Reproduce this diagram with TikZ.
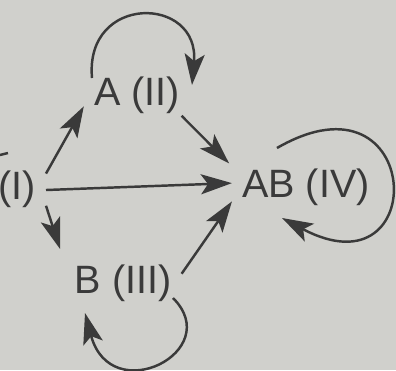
\documentclass[tikz,border=0pt]{standalone}
\usepackage{fontspec}
\setmainfont{Liberation Sans}
\usetikzlibrary{arrows.meta}
\definecolor{paper}{RGB}{208,208,204}
\definecolor{ink}{RGB}{58,58,58}

\begin{document}
\begin{tikzpicture}[x=0.02cm, y=0.02cm,
    stage/.style={font=\fontsize{22.5}{26}\selectfont, text=ink,
      inner xsep=0.2cm, inner ysep=0.04cm},
    flow/.style={-{Stealth[length=0.62cm,width=0.4cm,inset=0.14cm]},
      ink, line width=1.4pt}]
    % Background (photo paper)
    \fill[paper] (0,0) rectangle (396,370);
    \useasboundingbox (0,0) rectangle (396,370);

    % Stages
    \node[stage] (I)  at (17,181)  {(I)};
    \node[stage] (A)  at (137,275) {A (II)};
    \node[stage] (B)  at (123,87)  {B (III)};
    \node[stage] (AB) at (306,183) {AB (IV)};

    % Stray mark at the cut edge
    \coordinate (cut) at (0,215);
    \draw[ink, line width=1.4pt] (cut) -- ++(8,2);

    % Transitions between stages
    \draw[flow] (I.28) -- (A.192);
    \draw[flow] (I.-2) -- (AB.177);
    \draw[flow, shorten >=0.28cm] (I.-30) -- (B.north west);
    \draw[flow, shorten >=0.08cm] (A.-25) -- (AB.north west);
    \draw[flow] (B.9.6) -- (AB.191);

    % Self loops
    \draw[flow] ([shift={(-45,17)}]A.center)
      .. controls +(95:85) and +(85:90) .. ([shift={(55,10)}]A.center);
    \draw[flow] ([shift={(50,-15)}]B.center)
      .. controls +(-45:75) and +(-75:100) .. ([shift={(-38,-30)}]B.center);
    \draw[flow] ([shift={(-29,39)}]AB.center)
      .. controls +(30:170) and +(-28:170) .. ([shift={(-24,-31)}]AB.center);
  \end{tikzpicture}
\end{document}
